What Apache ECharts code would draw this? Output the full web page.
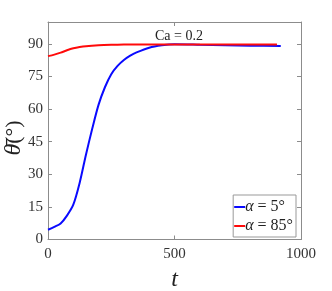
<!DOCTYPE html>
<html><head><meta charset="utf-8">
<script src="https://cdn.jsdelivr.net/npm/echarts@6/dist/echarts.min.js"></script>
<style>html,body{margin:0;padding:0;background:#fff}#c{width:332px;height:291px}</style>
</head><body><div id="c"></div>
<script>
var blueT = [0,25,50,75,100,125,150,175,200,225,250,275,300,325,350,400,450,500,550,600,700,800,920];
var blueTheta = [4.5,5.8,7.4,11,16,26,39,51,62,70,76,79.8,82.5,84.5,86,88.2,89.3,89.8,89.7,89.5,89.3,89.1,89.0];
var redT = [0,25,50,75,100,125,150,200,250,300,400,500,600,700,800,905];
var redTheta = [84.3,85,85.9,87,87.9,88.5,88.9,89.3,89.5,89.6,89.7,89.7,89.7,89.7,89.7,89.7];
var xTicks = [0,500,1000];
var yTicks = [0,15,30,45,60,75,90];
var seriesNames = ['α = 5°','α = 85°'];
var titleText = 'Ca = 0.2';
var yName = '{i|θ̄}(°)';

function pairs(t, v){ return t.map(function(x,i){return [x, v[i]];}); }
var serif = 'Liberation Serif';
var axisColor = '#8c8c8c';
var chart = echarts.init(document.getElementById('c'));
var baseX = {type:'value', min:0, max:1000, interval:500,
  axisLine:{show:true, onZero:false, lineStyle:{color:axisColor}},
  splitLine:{show:false}};
var baseY = {type:'value', min:0, max:100, interval:15,
  axisLine:{show:true, onZero:false, lineStyle:{color:axisColor}},
  axisTick:{show:true, inside:true, length:4, lineStyle:{color:axisColor},
    customValues: yTicks},
  splitLine:{show:false}};
chart.setOption({
  animation:false,
  title:{text:titleText, left:174, textAlign:'center', top:24,
    textStyle:{fontFamily:serif, fontWeight:'normal', fontSize:14, color:'#222'}},
  grid:{left:48, right:31, top:22, bottom:51.5, show:false, containLabel:false, outerBoundsMode:'none'},
  graphic:[{type:'text', x:14, y:138, rotation:Math.PI/2,
    style:{text:yName, fontFamily:serif, fontSize:22, fill:'#222', align:'center', verticalAlign:'middle',
      rich:{i:{fontFamily:serif, fontStyle:'italic', fontSize:24, fill:'#222'}}}}],
  xAxis:[
    Object.assign({}, baseX, {position:'bottom',
      axisLabel:{show:true, customValues:xTicks, fontFamily:serif, fontSize:15, color:'#333', margin:7,
        formatter:function(v){return String(v);}},
      axisTick:{show:true, inside:true, length:4, lineStyle:{color:axisColor}, customValues:xTicks},
      name:'t', nameLocation:'middle', nameGap:28,
      nameTextStyle:{fontFamily:serif, fontStyle:'italic', fontSize:24, color:'#222'}}),
    Object.assign({}, baseX, {position:'top', axisLabel:{show:false},
      axisTick:{show:true, inside:true, length:4, lineStyle:{color:axisColor}, customValues:xTicks}})
  ],
  yAxis:[
    Object.assign({}, baseY, {position:'left',
      axisLabel:{show:true, customValues:yTicks, fontFamily:serif, fontSize:15, color:'#333', margin:5}}),
    Object.assign({}, baseY, {position:'right', axisLabel:{show:false}})
  ],
  legend:{right:36, bottom:54, orient:'vertical', itemGap:3, itemWidth:11, itemHeight:2,
    icon:'rect', backgroundColor:'#fff', borderColor:'#999', borderWidth:1, padding:[4,3,3,1],
    borderRadius:0, itemStyle:{borderWidth:0},
    formatter:function(n){ return '{a|α}' + n.substring(1); },
    textStyle:{fontFamily:serif, fontSize:16, color:'#222', padding:[0,0,0,-5],
      rich:{a:{fontFamily:serif, fontStyle:'italic', fontSize:16, color:'#222'}}},
    data:seriesNames},
  series:[
    {name:seriesNames[0], type:'line', data:pairs(blueT, blueTheta), showSymbol:false, smooth:0.3,
      lineStyle:{color:'#0a0aff', width:2}, itemStyle:{color:'#0a0aff'}},
    {name:seriesNames[1], type:'line', data:pairs(redT, redTheta), showSymbol:false, smooth:0.3,
      lineStyle:{color:'#ff0a0a', width:2}, itemStyle:{color:'#ff0a0a'}}
  ]
});
</script></body></html>
